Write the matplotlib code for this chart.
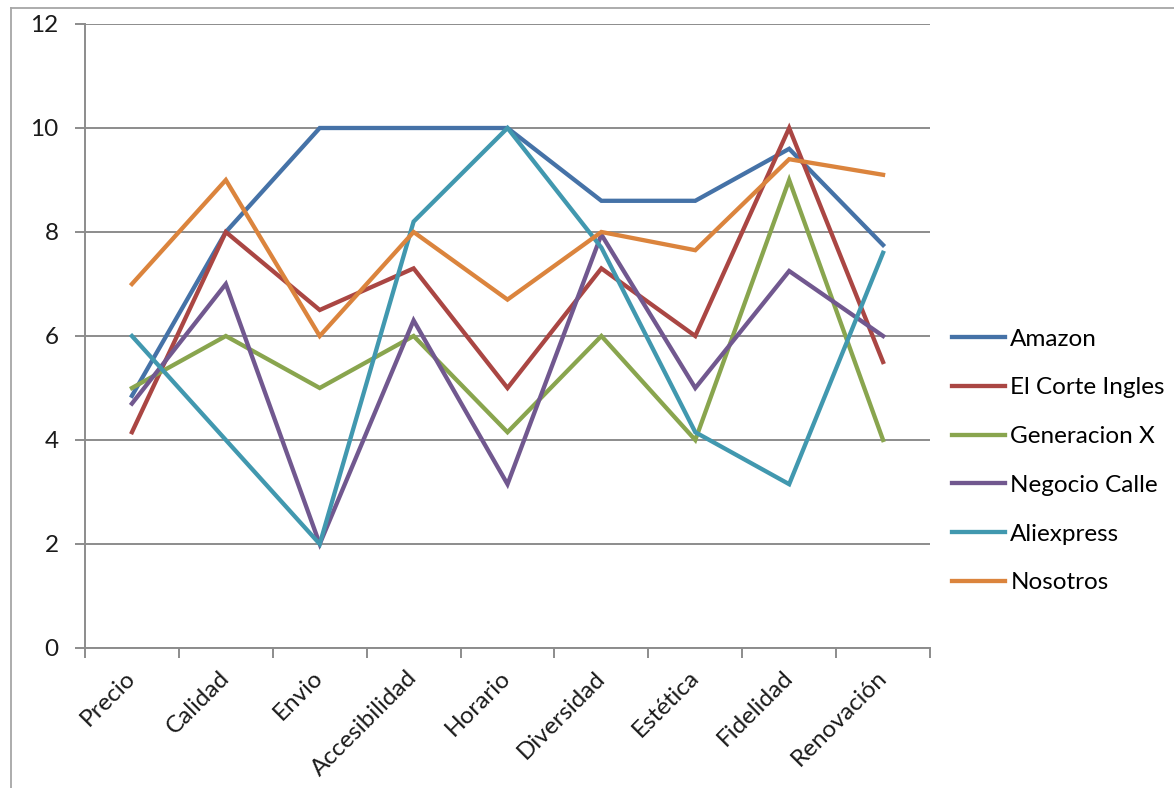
import numpy as np
import matplotlib
matplotlib.use('Agg')
import matplotlib.pyplot as plt
from matplotlib.lines import Line2D

# Datos
categorias = ['Precio', 'Calidad', 'Envio', 'Accesibilidad', 'Horario',
              'Diversidad', 'Estética', 'Fidelidad', 'Renovación']
amazon = [4.85, 8, 10, 10, 10, 8.6, 8.6, 9.6, 7.75]
corte_ingles = [4.15, 8, 6.5, 7.3, 5, 7.3, 6, 10, 5.5]
generacion_x = [5, 6, 5, 6, 4.15, 6, 4, 9, 4]
negocio_calle = [4.7, 7, 2, 6.3, 3.15, 7.95, 5, 7.25, 6]
aliexpress = [6, 4, 2, 8.2, 10, 7.7, 4.15, 3.15, 7.6]
nosotros = [7, 9, 6, 8, 6.7, 8, 7.65, 9.4, 9.1]

series = [
    ('Amazon', amazon, '#4572A7'),
    ('El Corte Ingles', corte_ingles, '#AA4643'),
    ('Generacion X', generacion_x, '#89A54E'),
    ('Negocio Calle', negocio_calle, '#71588F'),
    ('Aliexpress', aliexpress, '#4198AF'),
    ('Nosotros', nosotros, '#DB843D'),
]

plt.rcParams['font.family'] = ['Lato', 'DejaVu Sans']
gris = '#8c8c8c'
fs = 17.5

fig = plt.figure(figsize=(11.74, 7.88), dpi=100)
ax = fig.add_axes([85 / 1174, 1 - 648 / 788, (930 - 85) / 1174, (648 - 24) / 788])

x = np.arange(len(categorias))
for nombre, valores, color in series:
    ax.plot(x, valores, color=color, linewidth=3.1, label=nombre,
            solid_joinstyle='miter', zorder=3)

ax.set_xlim(-0.5, len(categorias) - 0.5)
ax.set_ylim(0, 12)
ax.set_yticks(np.arange(0, 13, 2))
ax.yaxis.grid(True, color=gris, linewidth=1.4)
ax.set_axisbelow(True)

# ticks entre categorias, etiquetas en el centro
ax.set_xticks(np.arange(-0.5, len(categorias), 1))
ax.set_xticklabels([])
ax.set_xticks(x, minor=True)
ax.set_xticklabels(categorias, minor=True, rotation=45, ha='right', va='center',
                   rotation_mode='anchor', fontsize=fs, color='#1a1a1a')
ax.tick_params(axis='x', which='minor', length=0, pad=19)
ax.tick_params(axis='x', which='major', length=7, width=1.4, color=gris)
ax.tick_params(axis='y', length=7, width=1.4, color=gris, pad=12,
               labelsize=fs, labelcolor='#1a1a1a')

for lado in ['top', 'right']:
    ax.spines[lado].set_visible(False)
for lado in ['left', 'bottom']:
    ax.spines[lado].set_color(gris)
    ax.spines[lado].set_linewidth(1.4)

# Leyenda a la derecha
ax.legend(loc='center left', bbox_to_anchor=(952 / 1174, 1 - 461 / 788),
          bbox_transform=fig.transFigure, frameon=False, fontsize=fs,
          handlelength=2.2, handletextpad=0.2, labelspacing=1.14,
          borderpad=0, borderaxespad=0)

# Marco del area del grafico
fig.add_artist(Line2D([11 / 1174, 11 / 1174], [0, 1 - 8 / 788],
                      transform=fig.transFigure, color='#a6a6a6', linewidth=1.3))
fig.add_artist(Line2D([11 / 1174, 1], [1 - 8 / 788, 1 - 8 / 788],
                      transform=fig.transFigure, color='#a6a6a6', linewidth=1.3))

plt.savefig('out.png', dpi=100)
